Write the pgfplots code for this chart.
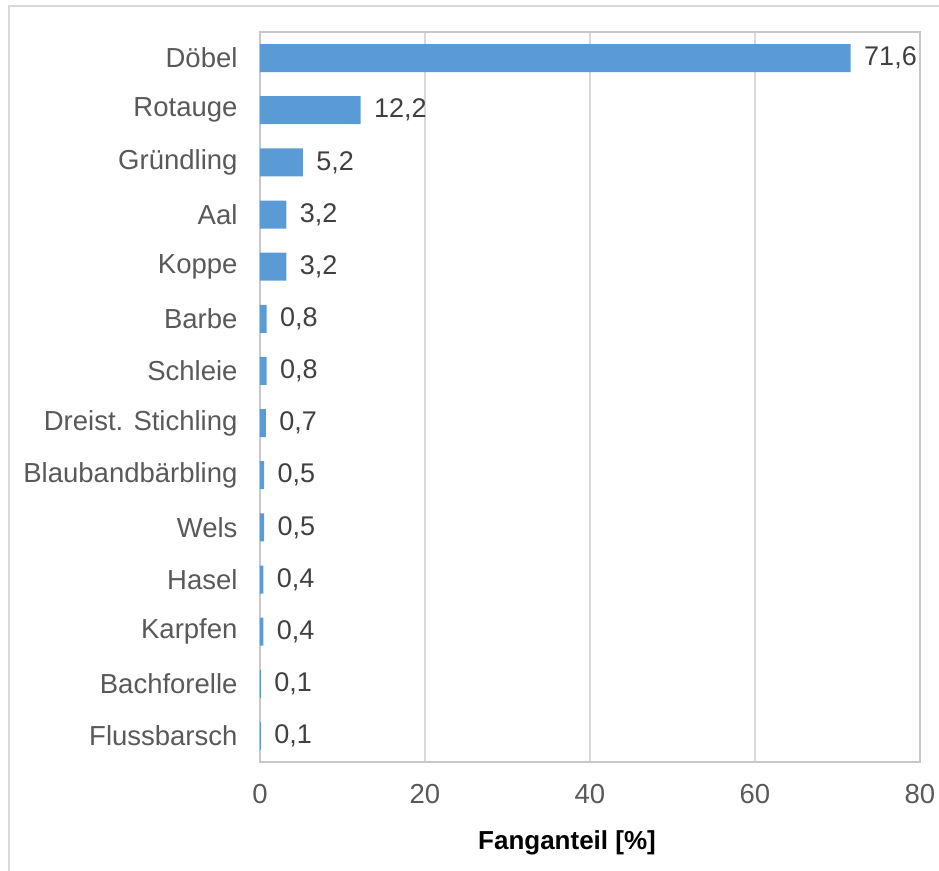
\documentclass[border=0pt]{standalone}
\usepackage{pgfplots}
\pgfplotsset{compat=1.18}
\usepackage{fontspec}
\setmainfont{Liberation Sans}
\definecolor{barblue}{HTML}{5B9BD5}
\definecolor{gridgray}{HTML}{D9D9D9}
\definecolor{axgray}{HTML}{C8C8C8}
\definecolor{txtgray}{HTML}{595959}
\definecolor{lblgray}{HTML}{404040}
\begin{document}
\begin{tikzpicture}
\path[use as bounding box] (-260pt,-108pt) rectangle (679pt,762pt);
\begin{scope}
\clip (-260pt,-108pt) rectangle (679pt,762pt);
\draw[gridgray, line width=2pt] (-251pt,-130pt) rectangle (720pt,756pt);
\end{scope}
\begin{axis}[
 at={(0,0)}, anchor=south west,
 scale only axis, width=660pt, height=730pt,
 xbar, bar width=28pt,
 xmin=0, xmax=80, ymin=-0.5, ymax=13.5, y dir=reverse,
 ytick={0,...,13},
 yticklabels={Döbel,Rotauge,Gründling,Aal,Koppe,Barbe,Schleie,Dreist. Stichling,Blaubandbärbling,Wels,Hasel,Karpfen,Bachforelle,Flussbarsch},
 xtick={0,20,40,60,80},
 xmajorgrids, grid style={gridgray, line width=1.2pt},
 axis line style={axgray, line width=1.2pt},
 major tick length=0pt,
 tick label style={font=\fontsize{27.5}{32}\selectfont, text=txtgray},
 xticklabel style={yshift=-19pt},
 yticklabel style={xshift=-19pt},
 /pgf/number format/assume math mode=true,
 xlabel={Fanganteil [\%]},
 xlabel style={font=\fontsize{26}{30}\selectfont\bfseries, text=black, yshift=-20pt, xshift=-23pt},
 point meta=x,
 nodes near coords={\pgfmathprintnumber[fixed,fixed zerofill,precision=1,use comma,assume math mode=true]{\pgfplotspointmeta}},
 nodes near coords style={font=\fontsize{27}{32}\selectfont, text=lblgray, anchor=west, xshift=10pt},
]
\addplot[fill=barblue, draw=none] coordinates {
(71.6,0) (12.2,1) (5.2,2) (3.2,3) (3.2,4) (0.8,5) (0.8,6) (0.7,7) (0.5,8) (0.5,9) (0.4,10) (0.4,11) (0.1,12) (0.1,13)};
\end{axis}
\end{tikzpicture}
\end{document}
